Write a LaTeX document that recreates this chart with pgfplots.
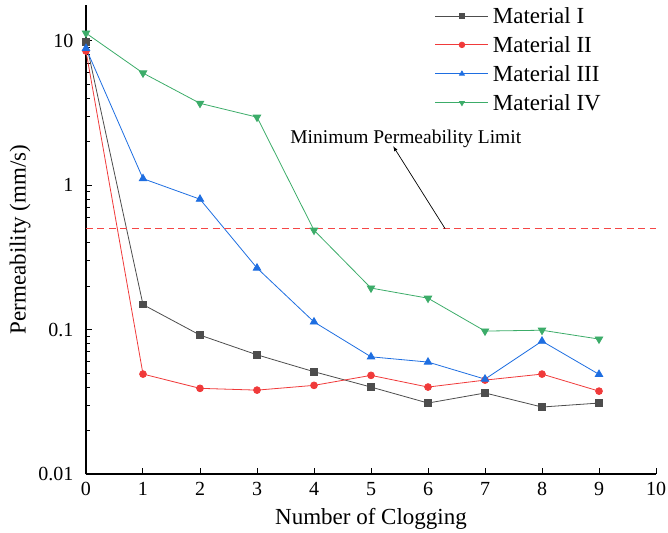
\documentclass[border=0pt]{standalone}
\usepackage{pgfplots}
\pgfplotsset{compat=1.18}
\usepackage{fontspec}
\setmainfont{Liberation Serif}

\definecolor{matI}{RGB}{77,77,77}
\definecolor{matII}{RGB}{240,58,58}
\definecolor{matIII}{RGB}{30,110,225}
\definecolor{matIV}{RGB}{60,172,105}
\definecolor{limitred}{RGB}{245,70,70}

\begin{document}
\begin{tikzpicture}
\begin{axis}[
  scale only axis,
  width=570pt, height=469pt,
  ymode=log,
  xmin=0, xmax=10,
  ymin=0.01, ymax=17.7,
  axis lines=left,
  axis line style={line width=1.3pt, -},
  xtick={0,1,...,10},
  ytick={0.01,0.1,1,10},
  yticklabels={0.01,0.1,1,10},
  tick align=inside,
  major tick length=6pt,
  minor tick length=4pt,
  tick style={line width=1pt, black},
  /pgf/number format/assume math mode=true,
  ticklabel style={font=\fontsize{20}{24}\selectfont},
  xticklabel style={yshift=-5pt},
  yticklabel style={xshift=-9pt},
  xlabel={Number of Clogging},
  ylabel={Permeability (mm/s)},
  label style={font=\fontsize{23}{27}\selectfont},
  xlabel style={yshift=-5pt},
  ylabel style={yshift=1pt},
  legend style={at={(rel axis cs:0.612,1.0)}, anchor=north west,
    draw=none, fill=none, font=\fontsize{23}{27}\selectfont,
    row sep=7.5pt, inner sep=0pt,
    nodes={inner xsep=4pt}},
  legend cell align=left,
  legend image code/.code={
    \draw[mark repeat=2, mark phase=2, mark size=2.8pt]
      plot coordinates {(0pt,0pt) (26.5pt,0pt) (53pt,0pt)};},
  every axis plot/.append style={line width=0.8pt},
]
\addplot[matI, mark=square*, mark size=3.3pt] coordinates {
  (0,9.8) (1,0.149) (2,0.0916) (3,0.0669) (4,0.0511)
  (5,0.040) (6,0.031) (7,0.0364) (8,0.0291) (9,0.031)};
\addlegendentry{Material I}
\addplot[matII, mark=*, mark size=3.4pt] coordinates {
  (0,8.5) (1,0.0492) (2,0.0392) (3,0.0381) (4,0.0411)
  (5,0.0482) (6,0.040) (7,0.0447) (8,0.0492) (9,0.0375)};
\addlegendentry{Material II}
\addplot[matIII, mark=triangle*, mark size=4.3pt] coordinates {
  (0,8.87) (1,1.11) (2,0.80) (3,0.267) (4,0.113)
  (5,0.0648) (6,0.0596) (7,0.0454) (8,0.0832) (9,0.049)};
\addlegendentry{Material III}
\addplot[matIV, mark=triangle*, mark options={rotate=180}, mark size=4.3pt] coordinates {
  (0,11.3) (1,5.98) (2,3.69) (3,2.96) (4,0.488)
  (5,0.194) (6,0.165) (7,0.0977) (8,0.099) (9,0.086)};
\addlegendentry{Material IV}
% minimum permeability threshold
\addplot[limitred, line width=1.1pt, dash pattern=on 7pt off 4.5pt, forget plot]
  coordinates {(0,0.5) (10,0.5)};
\draw[-latex, line width=0.7pt] (axis cs:6.3,0.5) -- (axis cs:5.39,1.86);
\node[font=\fontsize{19.5}{23}\selectfont] at (axis cs:5.61,2.11)
  {Minimum Permeability Limit};
\end{axis}
\pgfresetboundingbox
\path[use as bounding box] ([shift={(-86pt,-58pt)}]current axis.south west)
  rectangle ++(668pt,532pt);
\end{tikzpicture}
\end{document}
